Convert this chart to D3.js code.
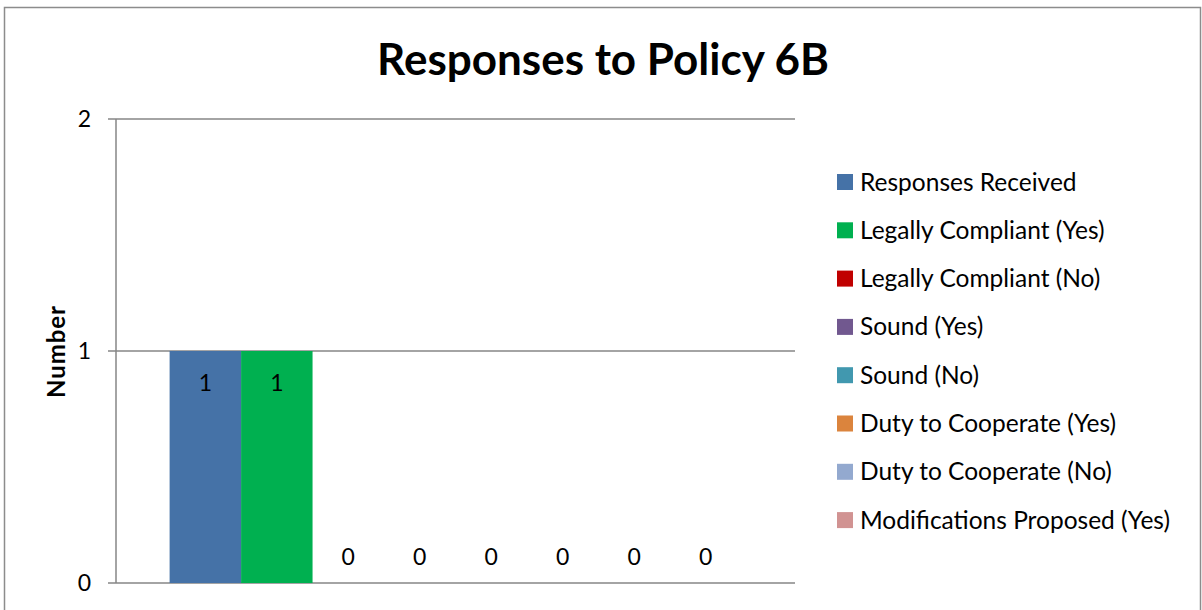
<!DOCTYPE html>
<html><head><meta charset="utf-8">
<script src="https://cdn.jsdelivr.net/npm/d3@7"></script>
<style>body{margin:0;background:#fff}svg{display:block}text{font-family:Lato,"Open Sans",sans-serif}</style>
</head><body>
<script>
const seriesNames = ["Responses Received","Legally Compliant (Yes)","Legally Compliant (No)","Sound (Yes)","Sound (No)","Duty to Cooperate (Yes)","Duty to Cooperate (No)","Modifications Proposed (Yes)"];
const seriesValues = [1,1,0,0,0,0,0,0];
const seriesColors = ["#4572a7","#00b050","#c00000","#71588f","#4198af","#db843d","#93a9cf","#d19392"];
const yTicks = [0,1,2];
const titleText = "Responses to Policy 6B";
const yTitle = "Number";

const W=1202,H=610;
const svg=d3.select("body").append("svg").attr("width",W).attr("height",H);
svg.append("rect").attr("x",4.5).attr("y",7.5).attr("width",1196).attr("height",620).attr("fill","#fff").attr("stroke","#8c8c8c").attr("stroke-width",1.5);

const pLeft=116,pRight=795,pTop=119,pBottom=583;
const y=d3.scaleLinear().domain([0,2]).range([pBottom,pTop]);
const gap=1.5;
const bw=(pRight-pLeft)/(seriesNames.length+gap);
const x=d3.scaleBand().domain(seriesNames).range([pLeft+bw*gap/2,pRight-bw*gap/2]).padding(0);

svg.append("g").selectAll("line").data(yTicks).join("line")
  .attr("x1",108).attr("x2",pRight).attr("y1",d=>y(d)).attr("y2",d=>y(d))
  .attr("stroke","#868686").attr("stroke-width",1.5);
svg.append("line").attr("x1",pLeft).attr("x2",pLeft).attr("y1",pTop).attr("y2",pBottom).attr("stroke","#868686").attr("stroke-width",1.5);
svg.append("g").selectAll("text").data(yTicks).join("text")
  .attr("x",91).attr("y",d=>y(d)).attr("dy","0.35em").attr("text-anchor","end")
  .attr("font-size",23).attr("fill","#000").text(d=>d);

svg.append("g").selectAll("rect").data(seriesNames).join("rect")
  .attr("x",d=>x(d)).attr("width",x.bandwidth())
  .attr("y",(d,i)=>y(seriesValues[i])).attr("height",(d,i)=>y(0)-y(seriesValues[i]))
  .attr("fill",(d,i)=>seriesColors[i]);
svg.append("g").selectAll("text").data(seriesNames).join("text")
  .attr("x",d=>x(d)+x.bandwidth()/2)
  .attr("y",(d,i)=>seriesValues[i]>0?y(seriesValues[i])+32:y(0)-26)
  .attr("dy","0.35em").attr("text-anchor","middle").attr("font-size",23).attr("fill","#000")
  .text((d,i)=>seriesValues[i]);

svg.append("text").attr("x",603).attr("y",60).attr("dy","0.35em").attr("text-anchor","middle")
  .attr("font-size",44).attr("font-weight","bold").text(titleText);
svg.append("text").attr("transform","translate(57,352) rotate(-90)").attr("dy","0.35em").attr("text-anchor","middle")
  .attr("font-size",24).attr("font-weight","bold").attr("textLength",92).attr("lengthAdjust","spacing").text(yTitle);

const lg=svg.append("g").selectAll("g").data(seriesNames).join("g")
  .attr("transform",(d,i)=>`translate(837,${182+i*48.3})`);
lg.append("rect").attr("x",0).attr("y",-8).attr("width",16).attr("height",16).attr("fill",(d,i)=>seriesColors[i]);
lg.append("text").attr("x",23).attr("y",0).attr("dy","0.35em").attr("font-size",24.5).text(d=>d);
</script>
</body></html>
